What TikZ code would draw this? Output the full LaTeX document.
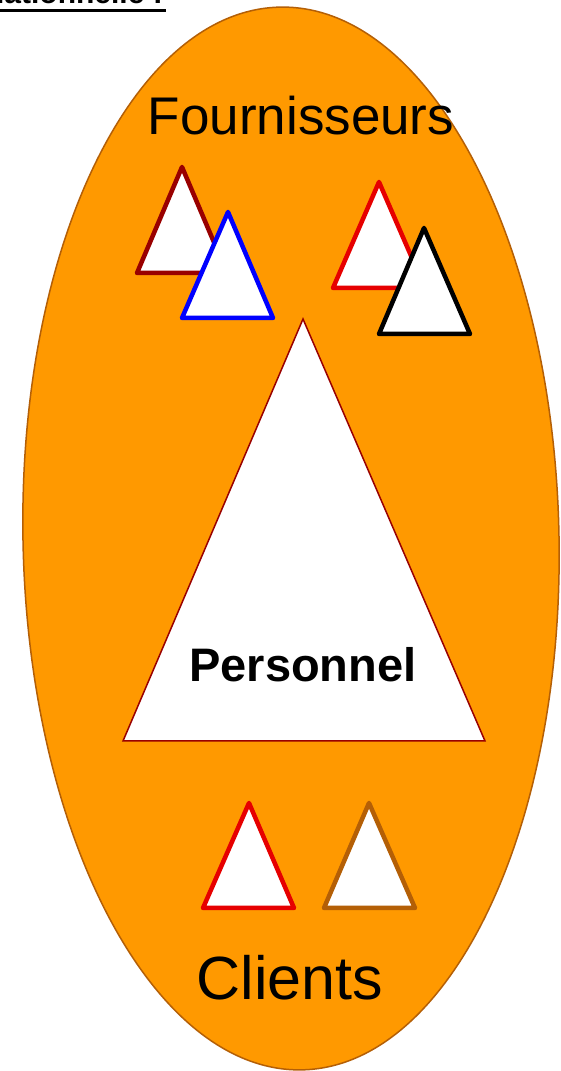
\documentclass[tikz,border=0pt]{standalone}
\usepackage{fontspec}
\setmainfont{Liberation Sans}
\definecolor{orangefill}{HTML}{FF9900}
\definecolor{ellborder}{HTML}{B45F06}
\definecolor{darkredc}{HTML}{990000}
\definecolor{redc}{HTML}{E60000}
\definecolor{bluec}{HTML}{0000FF}
\definecolor{brownc}{HTML}{B45F06}
\begin{document}
\begin{tikzpicture}[x=1pt,y=1pt,
  smalltri/.style={fill=white, line width=4.5pt, line join=round},
  bigtri/.style={fill=white, draw=darkredc, line width=1.5pt, line join=miter},
  lbl/.style={inner sep=0pt, anchor=base, text=black}]
\useasboundingbox (0,0) rectangle (560,1071);
\clip (0,0) rectangle (560,1071);
\fill[white] (0,0) rectangle (560,1071);
% title fragment cut at top
\node[inner sep=0pt, anchor=base east] (title) at (163,1067) {\fontsize{30}{34}\selectfont\bfseries Approche relationnelle :};
\fill[black] (0,1059) rectangle (166,1062);
% ellipse
\draw[fill=orangefill, draw=ellborder, line width=1.5pt, rotate around={1.2:(291,532.5)}] (291,532.5) ellipse [x radius=268, y radius=531.5];
% supplier triangles
\draw[smalltri, draw=darkredc] (182,904) -- (137,798) -- (227,798) -- cycle;
\draw[smalltri, draw=bluec] (228,859) -- (182,753) -- (273,753) -- cycle;
\draw[smalltri, draw=redc] (379,889) -- (333,783) -- (425,783) -- cycle;
\draw[smalltri, draw=black] (424,843) -- (379,737) -- (470,737) -- cycle;
% personnel
\draw[bigtri] (303,752) -- (123,330) -- (485,330) -- cycle;
% client triangles
\draw[smalltri, draw=redc] (249,268) -- (203,163) -- (294,163) -- cycle;
\draw[smalltri, draw=brownc] (369,268) -- (324,163) -- (415,163) -- cycle;
% labels
\node[lbl] (fourn) at (301,936) {\fontsize{53}{60}\selectfont Fournisseurs};
\node[lbl] (pers) at (303,389) {\fontsize{47}{54}\selectfont\bfseries Personnel};
\node[lbl] (cli) at (290,71) {\fontsize{61}{70}\selectfont Clients};
\end{tikzpicture}
\end{document}
